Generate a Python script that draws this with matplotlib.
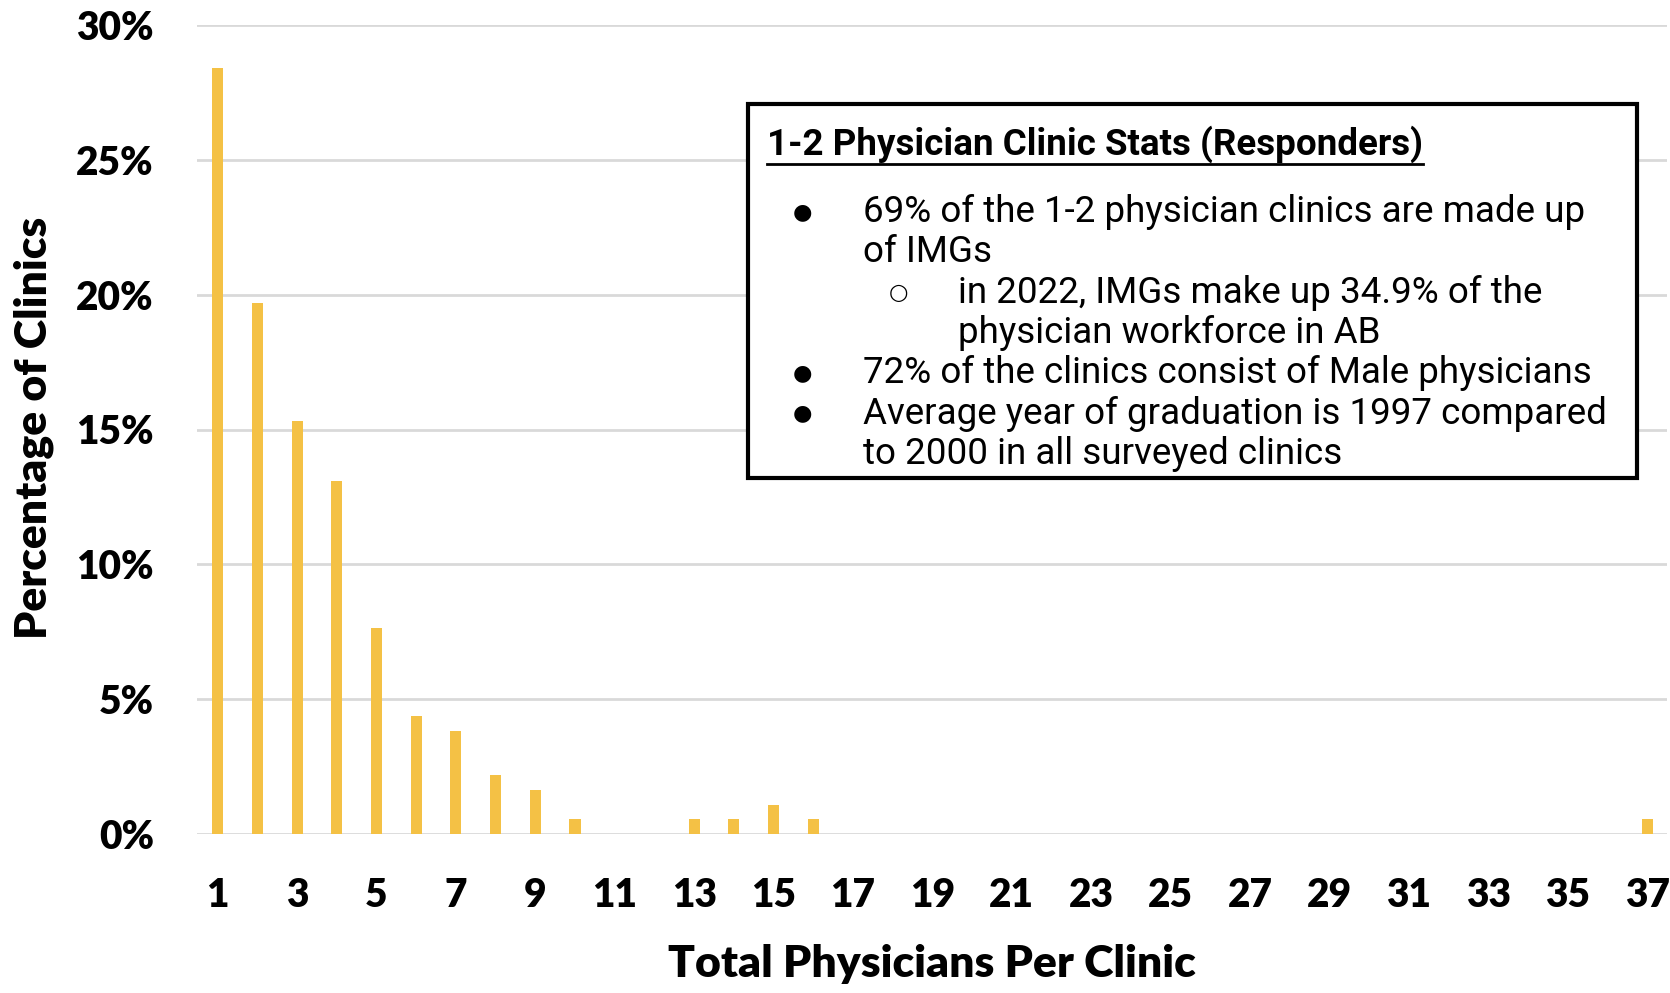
import matplotlib.pyplot as plt
from matplotlib.patches import Rectangle
from matplotlib.lines import Line2D

# physicians per clinic (1..37) and share of clinics in %
physicians = list(range(1, 38))
pct_clinics = [28.4, 19.7, 15.3, 13.1, 7.65, 4.37, 3.83, 2.19, 1.64, 0.55,
               0, 0, 0.55, 0.55, 1.09, 0.55, 0, 0, 0, 0,
               0, 0, 0, 0, 0, 0, 0, 0, 0, 0,
               0, 0, 0, 0, 0, 0, 0.55]
yticks = [0, 5, 10, 15, 20, 25, 30]
xticks = list(range(1, 38, 2))

box_title = "1-2 Physician Clinic Stats (Responders)"
box_lines = [
    ("bullet", "69% of the 1-2 physician clinics are made up"),
    ("cont", "of IMGs"),
    ("sub", "in 2022, IMGs make up 34.9% of the"),
    ("subcont", "physician workforce in AB"),
    ("bullet", "72% of the clinics consist of Male physicians"),
    ("bullet", "Average year of graduation is 1997 compared"),
    ("cont", "to 2000 in all surveyed clinics"),
]

W, H = 1670, 993
fig = plt.figure(figsize=(W / 100, H / 100), dpi=100)
ax = fig.add_axes([197 / W, 1 - 834 / H, (1667 - 197) / W, (834 - 25) / H])

ax.bar(physicians, pct_clinics, width=0.28, color="#F4C145", zorder=3)
ax.set_xlim(0.48, 37.5)
ax.set_ylim(0, 30)
ax.set_yticks(yticks)
ax.set_yticklabels([f"{v}%" for v in yticks])
ax.set_xticks(xticks)
ax.set_xticklabels([str(v) for v in xticks])
ax.yaxis.grid(True, color="#d9d9d9", lw=2, zorder=0)
ax.set_axisbelow(True)
for s in ax.spines.values():
    s.set_visible(False)

tick_font = dict(family="Lato", weight="heavy", size=28)
for lab in ax.get_yticklabels() + ax.get_xticklabels():
    lab.set_fontfamily("Lato")
    lab.set_fontweight("heavy")
    lab.set_fontsize(28)
ax.tick_params(axis="both", length=0)
ax.tick_params(axis="y", pad=31)
ax.tick_params(axis="x", pad=31)

fig.text(932 / W, 1 - 964 / H, "Total Physicians Per Clinic", ha="center", va="center",
         **dict(tick_font, size=32))
fig.text(34 / W, 1 - 428 / H, "Percentage of Clinics", ha="center", va="center",
         rotation=90, **dict(tick_font, size=32))

# text box
fig.patches.append(Rectangle((748 / W, 1 - 478 / H), (1637 - 748) / W, (478 - 104) / H,
                             transform=fig.transFigure, fill=True, facecolor="white",
                             edgecolor="black", lw=3, zorder=5))
t = fig.text(767 / W, 1 - 144 / H, box_title, ha="left", va="center",
             family="Roboto", weight="bold", size=26.5, zorder=6)
fig.canvas.draw()
bb = t.get_window_extent()
uy = bb.y0 - 1
fig.lines.append(Line2D([bb.x0 / W, bb.x1 / W], [uy / H, uy / H], transform=fig.transFigure,
                        color="black", lw=2, zorder=6))

y = 212
for kind, txt in box_lines:
    if kind == "bullet":
        fig.text(802 / W, 1 - y / H, "\u25cf", ha="center", va="center", family="DejaVu Sans",
                 size=16, zorder=6)
    if kind == "sub":
        fig.text(898 / W, 1 - y / H, "\u25cb", ha="center", va="center", family="DejaVu Sans",
                 size=16, zorder=6)
    x = 958 if kind.startswith("sub") else 863
    fig.text(x / W, 1 - y / H, txt, ha="left", va="center", family="Roboto",
             size=26.5, zorder=6)
    y += 40.3

fig.savefig("out.png", dpi=100)
